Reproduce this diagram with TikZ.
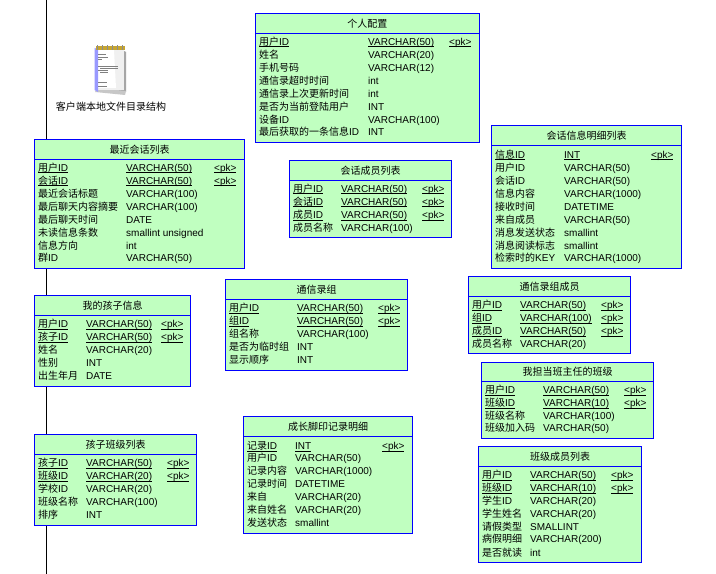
\documentclass[tikz,border=0pt]{standalone}
\usepackage{fontspec}
\setmainfont{Liberation Sans}
\newfontfamily\cjk{Noto Sans CJK SC}
\definecolor{tblfill}{HTML}{C0FFC0}
\definecolor{tblline}{HTML}{0000FF}
\newcounter{fld}
\newcommand\C[1]{{\cjk\fontsize{10bp}{11bp}\selectfont #1}}
\newcommand\ulx[1]{\setbox0\hbox{#1}\rlap{\rule[-1.7bp]{\wd0}{0.8bp}}\box0}
\newcommand\xa{0}\newcommand\xb{0}\newcommand\xc{0}
% \tbl{x0}{y0}{x1}{y1}{yhead}{title}{col1}{col2}{col3}
\newcommand\tbl[9]{%
  \draw[tblbox] (#1,#2) rectangle (#3,#4);
  \draw[tblrule] (#1,#5) -- (#3,#5);
  \stepcounter{fld}
  \node[tbltitle] (title\thefld) at ({(#1+#3)/2},{(#2+#5)/2}) {\C{#6}};
  \renewcommand\xa{#7}\renewcommand\xb{#8}\renewcommand\xc{#9}}
% key row
\newcommand\kr[3]{%
  \stepcounter{fld}
  \node[fieldtext] (a\thefld) at (\xa,#1+3.6) {\ulx{#2}};
  \node[fieldtext] (b\thefld) at (\xb,#1+3.6) {\ulx{#3}};
  \node[fieldtext] (c\thefld) at (\xc,#1+3.6) {\ulx{<pk>}};}
% plain row
\newcommand\pr[3]{%
  \stepcounter{fld}
  \node[fieldtext] (a\thefld) at (\xa,#1+3.6) {#2};
  \node[fieldtext] (b\thefld) at (\xb,#1+3.6) {#3};}
\tikzset{
  tblbox/.style={draw=tblline,fill=tblfill,line width=1bp},
  tblrule/.style={draw=tblline,line width=1bp},
  tbltitle/.style={inner sep=0pt,font=\fontsize{10bp}{12bp}\selectfont},
  fieldtext/.style={anchor=base west,inner sep=0pt,font=\fontsize{10bp}{12bp}\selectfont},
}
\begin{document}
\begin{tikzpicture}[x=1bp,y=-1bp]
\useasboundingbox (0,0) rectangle (716,574);
\fill[white] (0,0) rectangle (716,574);
\coordinate (lifetop) at (46.5,0);
\coordinate (lifebot) at (46.5,574);
\draw[black,line width=1bp] (lifetop) -- (lifebot);

% icon
\fill[black!35] (99,90) -- (126,92) -- (126,52) -- (122,50) -- (122,88) -- cycle;
\fill[black!22] (95,92) -- (125,95) -- (126,91) -- (97,88) -- cycle;
\fill[black!6] (97,49) -- (124,49) -- (124,90) -- (97,90) -- cycle;
\fill[white] (98,50) -- (114,50) -- (116,88) -- (98,88) -- cycle;
\fill[blue!40!white] (94.5,48) -- (98,49) -- (98,92) -- (94.5,90) -- cycle;
\fill[yellow!60!orange!75!black] (95.5,46) rectangle (124.5,50);
\foreach \ix in {97,102,107,112,117,122}
  \fill[black!45] (\ix,45) rectangle (\ix+1.2,50);
\foreach \ya/\xs/\xe in {55/98/106,58/98/108,60/98/102,67/98/118,69/100/118,71/98/108,73/100/108,83/98/107,87/98/107}
  \draw[black!50,line width=1bp] (\xs,\ya) -- (\xe,\ya);
\node[tbltitle] (iconlabel) at (111,106.5) {\C{客户端本地文件目录结构}};

% 个人配置
\tbl{255}{13.5}{479.5}{142.5}{33.5}{个人配置}{259}{368}{449}
\kr{42}{\C{用户}ID}{VARCHAR(50)}
\pr{55}{\C{姓名}}{VARCHAR(20)}
\pr{68}{\C{手机号码}}{VARCHAR(12)}
\pr{81}{\C{通信录超时时间}}{int}
\pr{94}{\C{通信录上次更新时间}}{int}
\pr{107}{\C{是否为当前登陆用户}}{INT}
\pr{120}{\C{设备}ID}{VARCHAR(100)}
\pr{132}{\C{最后获取的一条信息}ID}{INT}

% 最近会话列表
\tbl{34.5}{139.5}{244.5}{268}{159.5}{最近会话列表}{38}{126}{214}
\kr{168}{\C{用户}ID}{VARCHAR(50)}
\kr{181}{\C{会话}ID}{VARCHAR(50)}
\pr{194}{\C{最近会话标题}}{VARCHAR(100)}
\pr{207}{\C{最后聊天内容摘要}}{VARCHAR(100)}
\pr{220}{\C{最后聊天时间}}{DATE}
\pr{233}{\C{未读信息条数}}{smallint unsigned}
\pr{246}{\C{信息方向}}{int}
\pr{258}{\C{群}ID}{VARCHAR(50)}

% 会话成员列表
\tbl{289.5}{161}{451.5}{237}{180.5}{会话成员列表}{293}{341}{422}
\kr{189}{\C{用户}ID}{VARCHAR(50)}
\kr{202}{\C{会话}ID}{VARCHAR(50)}
\kr{215}{\C{成员}ID}{VARCHAR(50)}
\pr{228}{\C{成员名称}}{VARCHAR(100)}

% 会话信息明细列表
\tbl{491.5}{125.5}{681.5}{268.5}{145.5}{会话信息明细列表}{495}{564}{651}
\kr{155}{\C{信息}ID}{INT}
\pr{168}{\C{用户}ID}{VARCHAR(50)}
\pr{181}{\C{会话}ID}{VARCHAR(50)}
\pr{194}{\C{信息内容}}{VARCHAR(1000)}
\pr{207}{\C{接收时间}}{DATETIME}
\pr{220}{\C{来自成员}}{VARCHAR(50)}
\pr{233}{\C{消息发送状态}}{smallint}
\pr{246}{\C{消息阅读标志}}{smallint}
\pr{258}{\C{检索时的}KEY}{VARCHAR(1000)}

% 我的孩子信息
\tbl{34.5}{295.5}{190.5}{386.5}{315.5}{我的孩子信息}{38}{86}{161}
\kr{324}{\C{用户}ID}{VARCHAR(50)}
\kr{337}{\C{孩子}ID}{VARCHAR(50)}
\pr{350}{\C{姓名}}{VARCHAR(20)}
\pr{363}{\C{性别}}{INT}
\pr{376}{\C{出生年月}}{DATE}

% 孩子班级列表
\tbl{34.5}{434.5}{196.5}{525.5}{454.5}{孩子班级列表}{38}{86}{167}
\kr{463}{\C{孩子}ID}{VARCHAR(50)}
\kr{476}{\C{班级}ID}{VARCHAR(20)}
\pr{489}{\C{学校}ID}{VARCHAR(20)}
\pr{502}{\C{班级名称}}{VARCHAR(100)}
\pr{515}{\C{排序}}{INT}

% 通信录组
\tbl{225.5}{279.5}{407.5}{370.5}{299.5}{通信录组}{229}{297}{378}
\kr{308}{\C{用户}ID}{VARCHAR(50)}
\kr{321}{\C{组}ID}{VARCHAR(50)}
\pr{334}{\C{组名称}}{VARCHAR(100)}
\pr{347}{\C{是否为临时组}}{INT}
\pr{360}{\C{显示顺序}}{INT}

% 成长脚印记录明细
\tbl{243.5}{416.5}{412.5}{533.5}{436.5}{成长脚印记录明细}{247}{295}{382}
\kr{446}{\C{记录}ID}{INT}
\pr{458}{\C{用户}ID}{VARCHAR(50)}
\pr{471}{\C{记录内容}}{VARCHAR(1000)}
\pr{484}{\C{记录时间}}{DATETIME}
\pr{497}{\C{来自}}{VARCHAR(20)}
\pr{510}{\C{来自姓名}}{VARCHAR(20)}
\pr{523}{\C{发送状态}}{smallint}

% 通信录组成员
\tbl{468.5}{276.5}{630.5}{353.5}{296.5}{通信录组成员}{472}{520}{601}
\kr{305}{\C{用户}ID}{VARCHAR(50)}
\kr{318}{\C{组}ID}{VARCHAR(100)}
\kr{331}{\C{成员}ID}{VARCHAR(50)}
\pr{344}{\C{成员名称}}{VARCHAR(20)}

% 我担当班主任的班级
\tbl{481.5}{362}{653.5}{438.5}{381.5}{我担当班主任的班级}{485}{543}{624}
\kr{390}{\C{用户}ID}{VARCHAR(50)}
\kr{403}{\C{班级}ID}{VARCHAR(10)}
\pr{416}{\C{班级名称}}{VARCHAR(100)}
\pr{428}{\C{班级加入码}}{VARCHAR(50)}

% 班级成员列表
\tbl{478.5}{446.5}{641.5}{562.5}{466.5}{班级成员列表}{482}{530}{611}
\kr{475}{\C{用户}ID}{VARCHAR(50)}
\kr{488}{\C{班级}ID}{VARCHAR(10)}
\pr{501}{\C{学生}ID}{VARCHAR(20)}
\pr{514}{\C{学生姓名}}{VARCHAR(20)}
\pr{527}{\C{请假类型}}{SMALLINT}
\pr{539}{\C{病假明细}}{VARCHAR(200)}
\pr{553}{\C{是否就读}}{int}
\end{tikzpicture}
\end{document}
